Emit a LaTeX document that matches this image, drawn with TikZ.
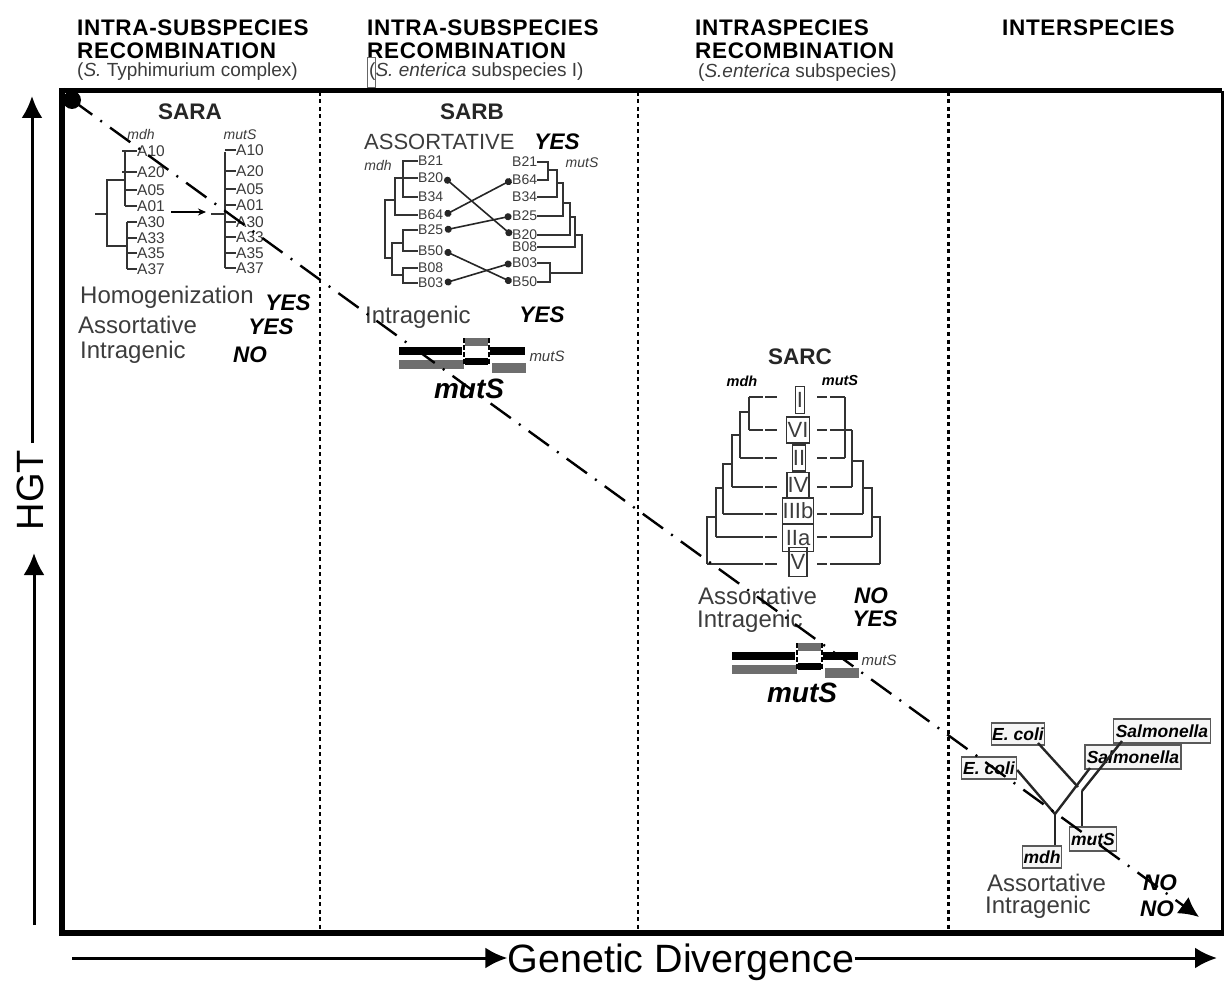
\documentclass[tikz,border=0pt]{standalone}
\usepackage{fontspec}
\setmainfont{Liberation Sans}
\newfontfamily\headfont[LetterSpace=3]{Liberation Sans}
\usetikzlibrary{arrows.meta}
\definecolor{inktext}{HTML}{3C3C3C}
\definecolor{barGray}{HTML}{6E6E6E}
\tikzset{
  genepair/.pic={
    \fill[black] (0,0) rectangle (63,8);
    \fill[barGray] (0,13) rectangle (65,22);
    \fill[barGray] (66,-9) rectangle (89,-1);
    \fill[black] (66,11) rectangle (89,18);
    \fill[black] (91,0) rectangle (126,8);
    \fill[barGray] (93,16) rectangle (127,26);
    \draw[black, line width=1.8pt, dash pattern=on 5pt off 2pt] (65,-9) -- (65,18);
    \draw[black, line width=1.8pt, dash pattern=on 5pt off 2pt] (90,-9) -- (90,18);
  }
}
\begin{document}
\begin{tikzpicture}[
    x=1pt, y=-1pt,
    headtext/.style={anchor=west, inner sep=0pt, font=\fontsize{22.5}{24}\selectfont\headfont\bfseries},
    subtext/.style={anchor=west, inner sep=0pt, text=inktext, font=\fontsize{19}{21}\selectfont},
    titletext/.style={inner sep=0pt, text=black!85, font=\fontsize{22.5}{24}\selectfont\bfseries},
    bodytext/.style={anchor=west, inner sep=0pt, text=inktext, font=\fontsize{24}{26}\selectfont},
    verdict/.style={inner sep=0pt, font=\fontsize{22.5}{24}\selectfont\bfseries\itshape},
    genelabel/.style={inner sep=0pt, text=inktext, font=\fontsize{15}{16}\selectfont\itshape},
    genebold/.style={inner sep=0pt, font=\fontsize{14.5}{16}\selectfont\bfseries\itshape},
    biglabel/.style={inner sep=0pt, font=\fontsize{28}{30}\selectfont\bfseries\itshape},
    leafa/.style={anchor=west, inner sep=0pt, text=inktext, font=\fontsize{15.5}{16}\selectfont},
    leafb/.style={anchor=west, inner sep=0pt, text=inktext, font=\fontsize{14}{16}\selectfont},
    treeline/.style={draw=black!80, line width=1.3pt},
    crosslink/.style={draw=black!85, line width=1.6pt, {Circle[length=7pt]}-{Circle[length=7pt]}},
    rowline/.style={draw=black!80, line width=1.3pt},
    groupbox/.style={draw=black!80, line width=1.3pt, inner sep=0pt, text=inktext,
      font=\fontsize{22}{24}\selectfont},
    taxonbox/.style={draw=black!65, line width=1.3pt, fill=black!4, inner sep=0pt,
      font=\fontsize{17.5}{19}\selectfont\bfseries\itshape},
    branchline/.style={draw=black!85, line width=2.4pt},
    divider/.style={draw=black, line width=2.4pt, dash pattern=on 4pt off 3.5pt},
    axisarrow/.style={draw=black, line width=3pt, -{Latex[length=22pt,width=21pt]}},
  ]
  \useasboundingbox (0,0) rectangle (1225,981);

  % Frame and dividers
  \draw[black, line width=3pt] (1222,91) -- (1222,934);
  \draw[black, line width=5pt] (60,91) -- (1222,91);
  \draw[black, line width=6pt] (60,933) -- (1224,933);
  \draw[black, line width=6pt] (62,88) -- (62,936);
  \draw[divider] (320,92) -- (320,930);
  \draw[divider] (638,92) -- (638,930);
  \draw[divider, line width=3pt] (948,92) -- (948,930);

  % Axes
  \node[inner sep=0pt, rotate=90, font=\fontsize{38}{40}\selectfont] (hgt) at (30,490) {HGT};
  \coordinate (hgttop) at (32,96);
  \coordinate (hgtup) at (32,443);
  \coordinate (hgtbase) at (34,925);
  \coordinate (hgtlow) at (34,553);
  \draw[axisarrow] (hgtup) -- (hgttop);
  \draw[axisarrow] (hgtbase) -- (hgtlow);
  \node[inner sep=0pt, font=\fontsize{39.5}{42}\selectfont] (divergence) at (681,962) {Genetic Divergence};
  \coordinate (divstart) at (72,958);
  \coordinate (divend) at (1217,958);
  \draw[axisarrow] (divstart) -- (divergence.west |- divstart);
  \draw[axisarrow] (divergence.east |- divend) -- (divend);

  % Column headers
  \node[headtext] (heada) at (77,28) {INTRA-SUBSPECIES};
  \node[headtext] (headb) at (77,51) {RECOMBINATION};
  \node[subtext] (headc) at (77,72) {(\textit{S.} Typhimurium complex)};
  \node[headtext] (headd) at (367,28) {INTRA-SUBSPECIES};
  \node[headtext] (heade) at (367,51) {RECOMBINATION};
  \node[subtext] (headf) at (369,72) {(\textit{S. enterica} subspecies I)};
  \node[draw=black!60, line width=1pt, minimum width=8pt, minimum height=30pt, inner sep=0pt]
    (headmark) at (371,73) {};
  \node[headtext] (headg) at (695,28) {INTRASPECIES};
  \node[headtext] (headh) at (695,51) {RECOMBINATION};
  \node[subtext] (headi) at (698,73) {(\textit{S.enterica} subspecies)};
  \node[headtext] (headj) at (1002,28) {INTERSPECIES};

  % SARA
  \node[titletext] (sara) at (190,112) {SARA};
  \node[genelabel, font=\fontsize{14}{15}\selectfont\itshape] (saramdh) at (141,135) {mdh};
  \node[genelabel, font=\fontsize{14}{15}\selectfont\itshape] (saramuts) at (240,135) {mutS};
  \foreach \lab/\ypos in {A10/151,A20/172,A05/190,A01/206,A30/222,A33/238,A35/253,A37/269}
    \node[leafa] (la\lab) at (137,\ypos) {\lab};
  \foreach \lab/\ypos in {A10/150,A20/171,A05/189,A01/205,A30/222,A33/237,A35/253,A37/268}
    \node[leafa] (ra\lab) at (236,\ypos) {\lab};
  \foreach \lab in {A05,A01}
    \draw[treeline] (125,0 |- la\lab.west) -- (la\lab.west);
  \foreach \lab in {A10,A20}
    \draw[treeline] (122,0 |- la\lab.west) -- (la\lab.west);
  \foreach \lab in {A30,A33,A35,A37}
    \draw[treeline] (127,0 |- la\lab.west) -- (la\lab.west);
  \foreach \lab in {A10,A20,A05,A01,A30,A33,A35,A37}
    \draw[treeline] (225,0 |- ra\lab.west) -- (ra\lab.west);
  \draw[treeline] (125,151) -- (125,206);
  \draw[treeline] (127,222) -- (127,269);
  \draw[treeline] (125,180) -- (107,180) -- (107,246) -- (127,246);
  \draw[treeline] (95,214) -- (107,214);
  \draw[treeline] (225,152) -- (225,268);
  \draw[treeline] (211,214) -- (225,214);
  \coordinate (sarafrom) at (171,212);
  \coordinate (sarato) at (206,212);
  \draw[draw=black, line width=1.6pt, -{Stealth[length=8pt,width=7pt]}] (sarafrom) -- (sarato);
  \node[bodytext] (saraho) at (80,297) {Homogenization};
  \node[verdict] (sarahoy) at (288,303) {YES};
  \node[bodytext] (saraas) at (78,325) {Assortative};
  \node[verdict] (saraasy) at (271,327) {YES};
  \node[bodytext] (sarain) at (80,352) {Intragenic};
  \node[verdict] (sarainn) at (250,355) {NO};

  % SARB
  \node[titletext] (sarb) at (472,112) {SARB};
  \node[bodytext, font=\fontsize{22}{24}\selectfont] (sarbas) at (364,142) {ASSORTATIVE};
  \node[verdict] (sarbasy) at (557,142) {YES};
  \node[genelabel, font=\fontsize{14}{15}\selectfont\itshape] (sarbmdh) at (378,166) {mdh};
  \node[genelabel, font=\fontsize{14}{15}\selectfont\itshape] (sarbmuts) at (582,163) {mutS};
  \foreach \lab/\ypos in {B21/161,B20/178,B34/197,B64/215,B25/230,B50/251,B08/268,B03/283}
    \node[leafb] (bl\lab) at (418,\ypos) {\lab};
  \foreach \lab/\ypos in {B21/162,B64/180,B34/197,B25/216,B20/235,B08/247,B03/263,B50/282}
    \node[leafb] (br\lab) at (512,\ypos) {\lab};
  \draw[treeline] (blB21.west) -- (403,161) -- (403,197) -- (blB34.west);
  \draw[treeline] (blB20.west) -- (395,178) -- (395,215) -- (blB64.west);
  \draw[treeline] (395,200) -- (385,200) -- (385,258) -- (392,258);
  \draw[treeline] (403,243) -- (392,243) -- (392,275) -- (403,275);
  \draw[treeline] (blB25.west) -- (403,230) -- (403,251) -- (blB50.west);
  \draw[treeline] (blB08.west) -- (403,268) -- (403,283) -- (blB03.west);
  \draw[treeline] (brB21.east) -- (548,162) -- (548,180) -- (brB64.east);
  \draw[treeline] (548,170) -- (557,170) -- (557,197) -- (brB34.east);
  \draw[treeline] (557,183) -- (563,183) -- (563,216) -- (brB25.east);
  \draw[treeline] (563,203) -- (570,203) -- (570,235) -- (brB20.east);
  \draw[treeline] (570,217) -- (575,217) -- (575,247) -- (brB08.east);
  \draw[treeline] (575,235) -- (582,235) -- (582,273) -- (550,273);
  \draw[treeline] (brB03.east) -- (550,263) -- (550,282) -- (brB50.east);
  \foreach \lab in {B20,B64,B25,B50,B03}
    \draw[crosslink] ([xshift=1.5pt]bl\lab.east) -- ([xshift=-0.5pt]br\lab.west);
  \node[bodytext] (sarbin) at (365,317) {Intragenic};
  \node[verdict] (sarbiny) at (542,315) {YES};
  \pic at (399,347) {genepair};
  \node[genelabel] (sarbbar) at (547,356) {mutS};
  \node[biglabel] (sarbgene) at (469,389) {mutS};

  % SARC
  \node[titletext] (sarc) at (800,357) {SARC};
  \node[genebold] (sarcmdh) at (742,381) {mdh};
  \node[genebold] (sarcmuts) at (840,381) {mutS};
  \node[groupbox, minimum width=9pt, minimum height=27pt] (gI) at (800,400) {I};
  \node[groupbox, minimum width=23pt, minimum height=26pt] (gVI) at (798,430) {VI};
  \node[groupbox, minimum width=13pt, minimum height=26pt] (gII) at (799,458) {II};
  \node[groupbox, minimum width=22pt, minimum height=25pt] (gIV) at (798,485) {IV};
  \node[groupbox, minimum width=31pt, minimum height=26pt] (gIIIb) at (798,511) {IIIb};
  \node[groupbox, minimum width=31pt, minimum height=27pt] (gIIa) at (798,538) {IIa};
  \node[groupbox, minimum width=18pt, minimum height=29pt] (gV) at (798,562) {V};
  \foreach \ypos/\xleft/\xright in {397/749/845,430/749/852,458/740/845,487/732/852,514/723/863,537/716/872,564/707/880} {
    \draw[rowline] (\xleft,\ypos) -- (763,\ypos);
    \draw[rowline] (765,\ypos) -- (777,\ypos);
    \draw[rowline] (817,\ypos) -- (827,\ypos);
    \draw[rowline] (830,\ypos) -- (\xright,\ypos);
  }
  \draw[treeline] (749,397) -- (749,430);
  \draw[treeline] (749,412) -- (740,412) -- (740,458);
  \draw[treeline] (740,435) -- (732,435) -- (732,487);
  \draw[treeline] (732,464) -- (723,464) -- (723,514);
  \draw[treeline] (723,488) -- (716,488) -- (716,537);
  \draw[treeline] (716,517) -- (707,517) -- (707,564);
  \draw[treeline] (845,397) -- (845,458);
  \draw[treeline] (852,430) -- (852,487);
  \draw[treeline] (852,461) -- (863,461) -- (863,514);
  \draw[treeline] (863,488) -- (872,488) -- (872,537);
  \draw[treeline] (872,517) -- (880,517) -- (880,564);
  \node[bodytext] (sarcas) at (698,596) {Assortative};
  \node[verdict] (sarcasn) at (871,596) {NO};
  \node[bodytext] (sarcin) at (697,621) {Intragenic};
  \node[verdict] (sarciny) at (875,619) {YES};
  \pic at (732,652) {genepair};
  \node[genelabel] (sarcbar) at (879,660) {mutS};
  \node[biglabel] (sarcgene) at (802,693) {mutS};

  % Interspecies tree
  \node[taxonbox, minimum width=53pt, minimum height=22pt] (ecolia) at (1018,734) {E. coli};
  \node[taxonbox, minimum width=55pt, minimum height=22pt] (ecolib) at (989,768) {E. coli};
  \node[taxonbox, minimum width=97pt, minimum height=24pt] (salmoa) at (1162,731) {Salmonella};
  \node[taxonbox, minimum width=96pt, minimum height=24pt] (salmob) at (1133,757) {Salmonella};
  \node[taxonbox, minimum width=47pt, minimum height=24pt] (interm) at (1093,839) {mutS};
  \node[taxonbox, minimum width=39pt, minimum height=22pt] (interd) at (1042,857) {mdh};
  \coordinate (jmdh) at (1055,814);
  \coordinate (jecoli) at (1078,787);
  \coordinate (jmuts) at (1082,791);
  \coordinate (salmoc) at (1090,768);
  \coordinate (salmod) at (1122,741);
  \draw[branchline] (ecolib.east) ++(0,2) -- (jmdh);
  \draw[branchline] (jmdh) -- (jmdh |- interd.north);
  \draw[branchline] (jmdh) -- (salmoc);
  \draw[branchline] (1038,743) -- (jecoli);
  \draw[branchline] (jmuts) -- (salmod);
  \draw[branchline] (jmuts) -- (jmuts |- interm.north);
  \node[bodytext] (interas) at (987,883) {Assortative};
  \node[verdict] (interasn) at (1160,883) {NO};
  \node[bodytext] (interin) at (985,907) {Intragenic};
  \node[verdict] (interinn) at (1157,909) {NO};

  % Trend line over everything
  \node[circle, fill=black, inner sep=0pt, minimum size=18pt] (origin) at (72,100) {};
  \coordinate (trendend) at (1199,917);
  \draw[black, line width=2.4pt, dash pattern=on 25pt off 10pt on 2pt off 10pt,
    -{Latex[length=20pt,width=20pt]}] (origin.center) -- (trendend);
\end{tikzpicture}
\end{document}
